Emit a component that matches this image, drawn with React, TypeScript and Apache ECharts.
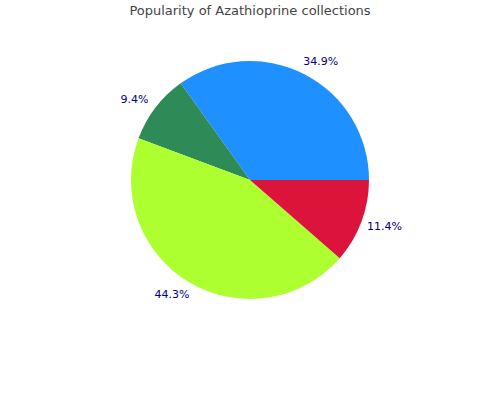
import React, { useEffect, useRef } from "react";
import * as echarts from "echarts";

const titleText = "Popularity of Azathioprine collections";
const categories = ["A", "B", "C", "D"];
const values = [34.9, 9.4, 44.3, 11.4];
const colors = ["#1E90FF", "#2E8B57", "#ADFF2F", "#DC143C"];

export default function App() {
  const ref = useRef<HTMLDivElement>(null);
  useEffect(() => {
    document.body.style.margin = "0";
    const chart = echarts.init(ref.current!, null, { renderer: "svg" });
    chart.setOption({
      animation: false,
      title: {
        text: titleText,
        left: "center",
        top: 4,
        padding: 0,
        textStyle: {
          fontFamily: "DejaVu Sans",
          fontSize: 13,
          fontWeight: "normal",
          color: "#444444",
        },
      },
      series: [
        {
          type: "pie",
          center: [250, 180],
          radius: 119,
          startAngle: 0,
          clockwise: false,
          avoidLabelOverlap: false,
          data: categories.map((c, i) => ({
            name: c,
            value: values[i],
            itemStyle: { color: colors[i] },
          })),
          label: {
            show: true,
            position: "outside",
            alignTo: "none",
            distanceToLabelLine: 0,
            formatter: (p: any) => p.value.toFixed(1) + "%",
            fontFamily: "DejaVu Sans",
            fontSize: 11,
            color: "#000080",
          },
          labelLine: { show: false, length: 14, length2: 10 },
          labelLayout: () => ({ align: "center" }),
          emphasis: { disabled: true },
        },
      ],
    });
    return () => chart.dispose();
  }, []);
  return <div ref={ref} style={{ width: 500, height: 400 }} />;
}
